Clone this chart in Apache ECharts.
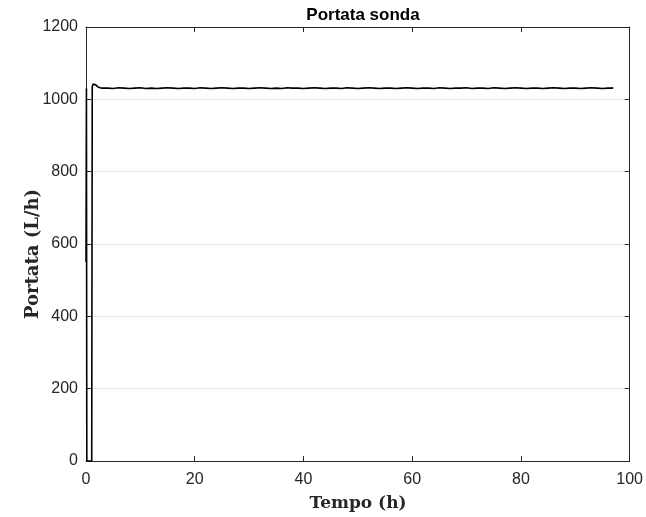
<!DOCTYPE html>
<html><head><meta charset="utf-8">
<script src="https://cdn.jsdelivr.net/npm/echarts@6/dist/echarts.min.js"></script>
<style>html,body{margin:0;padding:0;background:#fff}#c{width:646px;height:517px}</style>
</head><body><div id="c"></div>
<script>
const titleText = "Portata sonda";
const xLabel = "Tempo (h)";
const yLabel = "Portata (L/h)";
const timeH = [0, 0.08, 0.15, 1.05, 1.15, 1.3, 1.5, 1.8, 2.2, 2.6, 3,
  4,5,6,7,8,9,10,11,12,13,14,15,16,17,18,19,20,21,22,23,24,25,26,27,28,29,30,
  31,32,33,34,35,36,37,38,39,40,41,42,43,44,45,46,47,48,49,50,51,52,53,54,55,56,57,58,59,60,
  61,62,63,64,65,66,67,68,69,70,71,72,73,74,75,76,77,78,79,80,81,82,83,84,85,86,87,88,89,90,
  91,92,93,94,95,96,96.7,97];
const flow = [550, 1030, 0, 0, 1035, 1042, 1045, 1040, 1034, 1032, 1031,
  1031,1030,1032,1031,1030,1031,1032,1030,1031,1030,1031,1032,1031,1030,1031,1031,1030,1032,1031,1030,1031,1032,1031,1030,1031,1031,1030,
  1031,1032,1031,1030,1031,1030,1032,1031,1031,1030,1031,1032,1031,1030,1031,1031,1030,1032,1031,1030,1031,1032,1031,1030,1031,1031,1030,1031,1032,1031,1030,1031,
  1031,1030,1032,1031,1030,1031,1031,1032,1030,1031,1031,1030,1032,1031,1030,1031,1032,1031,1030,1031,1031,1030,1031,1032,1031,1030,1031,1031,1030,1031,
  1032,1031,1030,1031,1031,1032,1031,1034];
const xMin = 0, xMax = 100, xStep = 20;
const yMin = 0, yMax = 1200, yStep = 200;

const chart = echarts.init(document.getElementById('c'));
const axisColor = '#262626';
const labelStyle = {color: '#262626', fontFamily: 'Liberation Sans, Arial', fontSize: 16};
const serifBold = {fontFamily: 'DejaVu Serif', fontWeight: 'bold', fontSize: 17, fill: '#262626'};
const data = timeH.map((t, i) => [t, flow[i]]);
const boxAxis = {
  axisLine: {show: true, onZero: false, lineStyle: {color: axisColor, width: 1}},
  axisTick: {show: true, inside: true, length: 5, lineStyle: {color: axisColor}},
  axisLabel: {show: false}, splitLine: {show: false}
};
chart.setOption({
  animation: false,
  title: {text: titleText, left: 358, textAlign: 'center', top: 2,
    textStyle: {fontFamily: 'Liberation Sans, Arial', fontWeight: 'bold', fontSize: 17, color: '#000'}},
  grid: {left: 86, right: 15, top: 27, bottom: 56, containLabel: false},
  xAxis: [{
    type: 'value', min: xMin, max: xMax, interval: xStep, position: 'bottom',
    axisLine: {show: true, onZero: false, lineStyle: {color: axisColor, width: 1}},
    axisTick: {show: true, inside: true, length: 5, lineStyle: {color: axisColor}},
    axisLabel: Object.assign({margin: 11, formatter: v => String(v)}, labelStyle),
    splitLine: {show: false}
  }, Object.assign({type: 'value', min: xMin, max: xMax, interval: xStep, position: 'top'}, boxAxis)],
  yAxis: [{
    type: 'value', min: yMin, max: yMax, interval: yStep, position: 'left',
    axisLine: {show: true, onZero: false, lineStyle: {color: axisColor, width: 1}},
    axisTick: {show: true, inside: true, length: 5, lineStyle: {color: axisColor}},
    axisLabel: Object.assign({margin: 8, formatter: v => String(v)}, labelStyle),
    splitLine: {show: true, lineStyle: {color: '#e6e6e6', width: 1}}
  }, Object.assign({type: 'value', min: yMin, max: yMax, interval: yStep, position: 'right'}, boxAxis)],
  graphic: [
    {type: 'text', x: 358, y: 504, style: Object.assign({text: xLabel, textAlign: 'center', textVerticalAlign: 'middle'}, serifBold)},
    {type: 'text', x: 33, y: 254, rotation: Math.PI / 2, style: Object.assign({text: yLabel, textAlign: 'center', textVerticalAlign: 'middle'}, serifBold, {fontSize: 18})}
  ],
  series: [{
    type: 'line', data: data, showSymbol: false, symbol: 'none',
    lineStyle: {color: '#000', width: 1.6}, clip: true
  }]
});
</script></body></html>
